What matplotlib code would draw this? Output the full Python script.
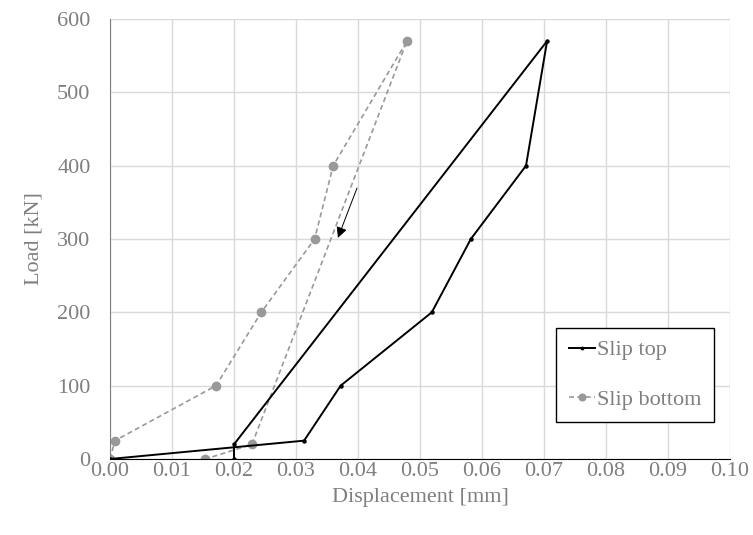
import matplotlib as mpl
mpl.use('Agg')
import matplotlib.pyplot as plt

mpl.rcParams.update({
    'font.family': ['Liberation Serif', 'DejaVu Serif'],
    'font.size': 16,
})

# slip at top of specimen (loading then unloading)
top_disp = [0.0, 0.0313, 0.0372, 0.0519, 0.0582, 0.0671, 0.0705, 0.0200, 0.0200]
top_load = [0, 25, 100, 200, 300, 400, 570, 20, 0]

# slip at bottom of specimen
bot_disp = [0.0, 0.0008, 0.0171, 0.0244, 0.0330, 0.0360, 0.0479, 0.0229, 0.0154]
bot_load = [0, 25, 100, 200, 300, 400, 570, 20, 0]

grey = '#7f7f7f'

fig = plt.figure(figsize=(7.53, 5.35), dpi=100)
ax = fig.add_axes([110 / 753, 1 - 459 / 535, 620 / 753, 440 / 535])

ax.plot(top_disp, top_load, '-', color='black', lw=1.4, marker='o', ms=2.2,
        label='Slip top', zorder=3)
ax.plot(bot_disp, bot_load, '--', color='#999999', lw=1.2, marker='o', ms=6,
        dashes=(3, 2), label='Slip bottom', zorder=2)

ax.annotate('', xy=(0.0366, 298), xytext=(0.0400, 373),
            arrowprops=dict(arrowstyle='-|>', color='black', lw=0.7,
                            mutation_scale=16))

ax.set_xlim(0, 0.10)
ax.set_ylim(0, 600)
ax.set_xticks([i / 100 for i in range(11)])
ax.set_xticklabels(['%.2f' % (i / 100) for i in range(11)])
ax.set_yticks(range(0, 601, 100))
ax.grid(color='#d9d9d9', lw=1)
ax.set_axisbelow(True)

for s in ['top', 'right']:
    ax.spines[s].set_visible(False)
ax.spines['left'].set_color('#808080')
ax.spines['bottom'].set_color('black')
ax.tick_params(length=0, colors=grey, labelsize=16)
ax.tick_params(axis='y', pad=14)
ax.tick_params(axis='x', pad=2)

ax.set_xlabel('Displacement [mm]', color=grey, fontsize=16, labelpad=5)
ax.set_ylabel('Load [kN]', color=grey, fontsize=16, labelpad=10)

leg = ax.legend(loc='lower right', bbox_to_anchor=(714 / 753, 1 - 422 / 535),
                bbox_transform=fig.transFigure, fancybox=False, framealpha=1,
                edgecolor='black', fontsize=16, handlelength=1.2,
                handletextpad=0.1, labelspacing=1.3, borderpad=0.55,
                borderaxespad=0, markerscale=0.8)
for t in leg.get_texts():
    t.set_color(grey)

plt.savefig('out.png', dpi=100)
